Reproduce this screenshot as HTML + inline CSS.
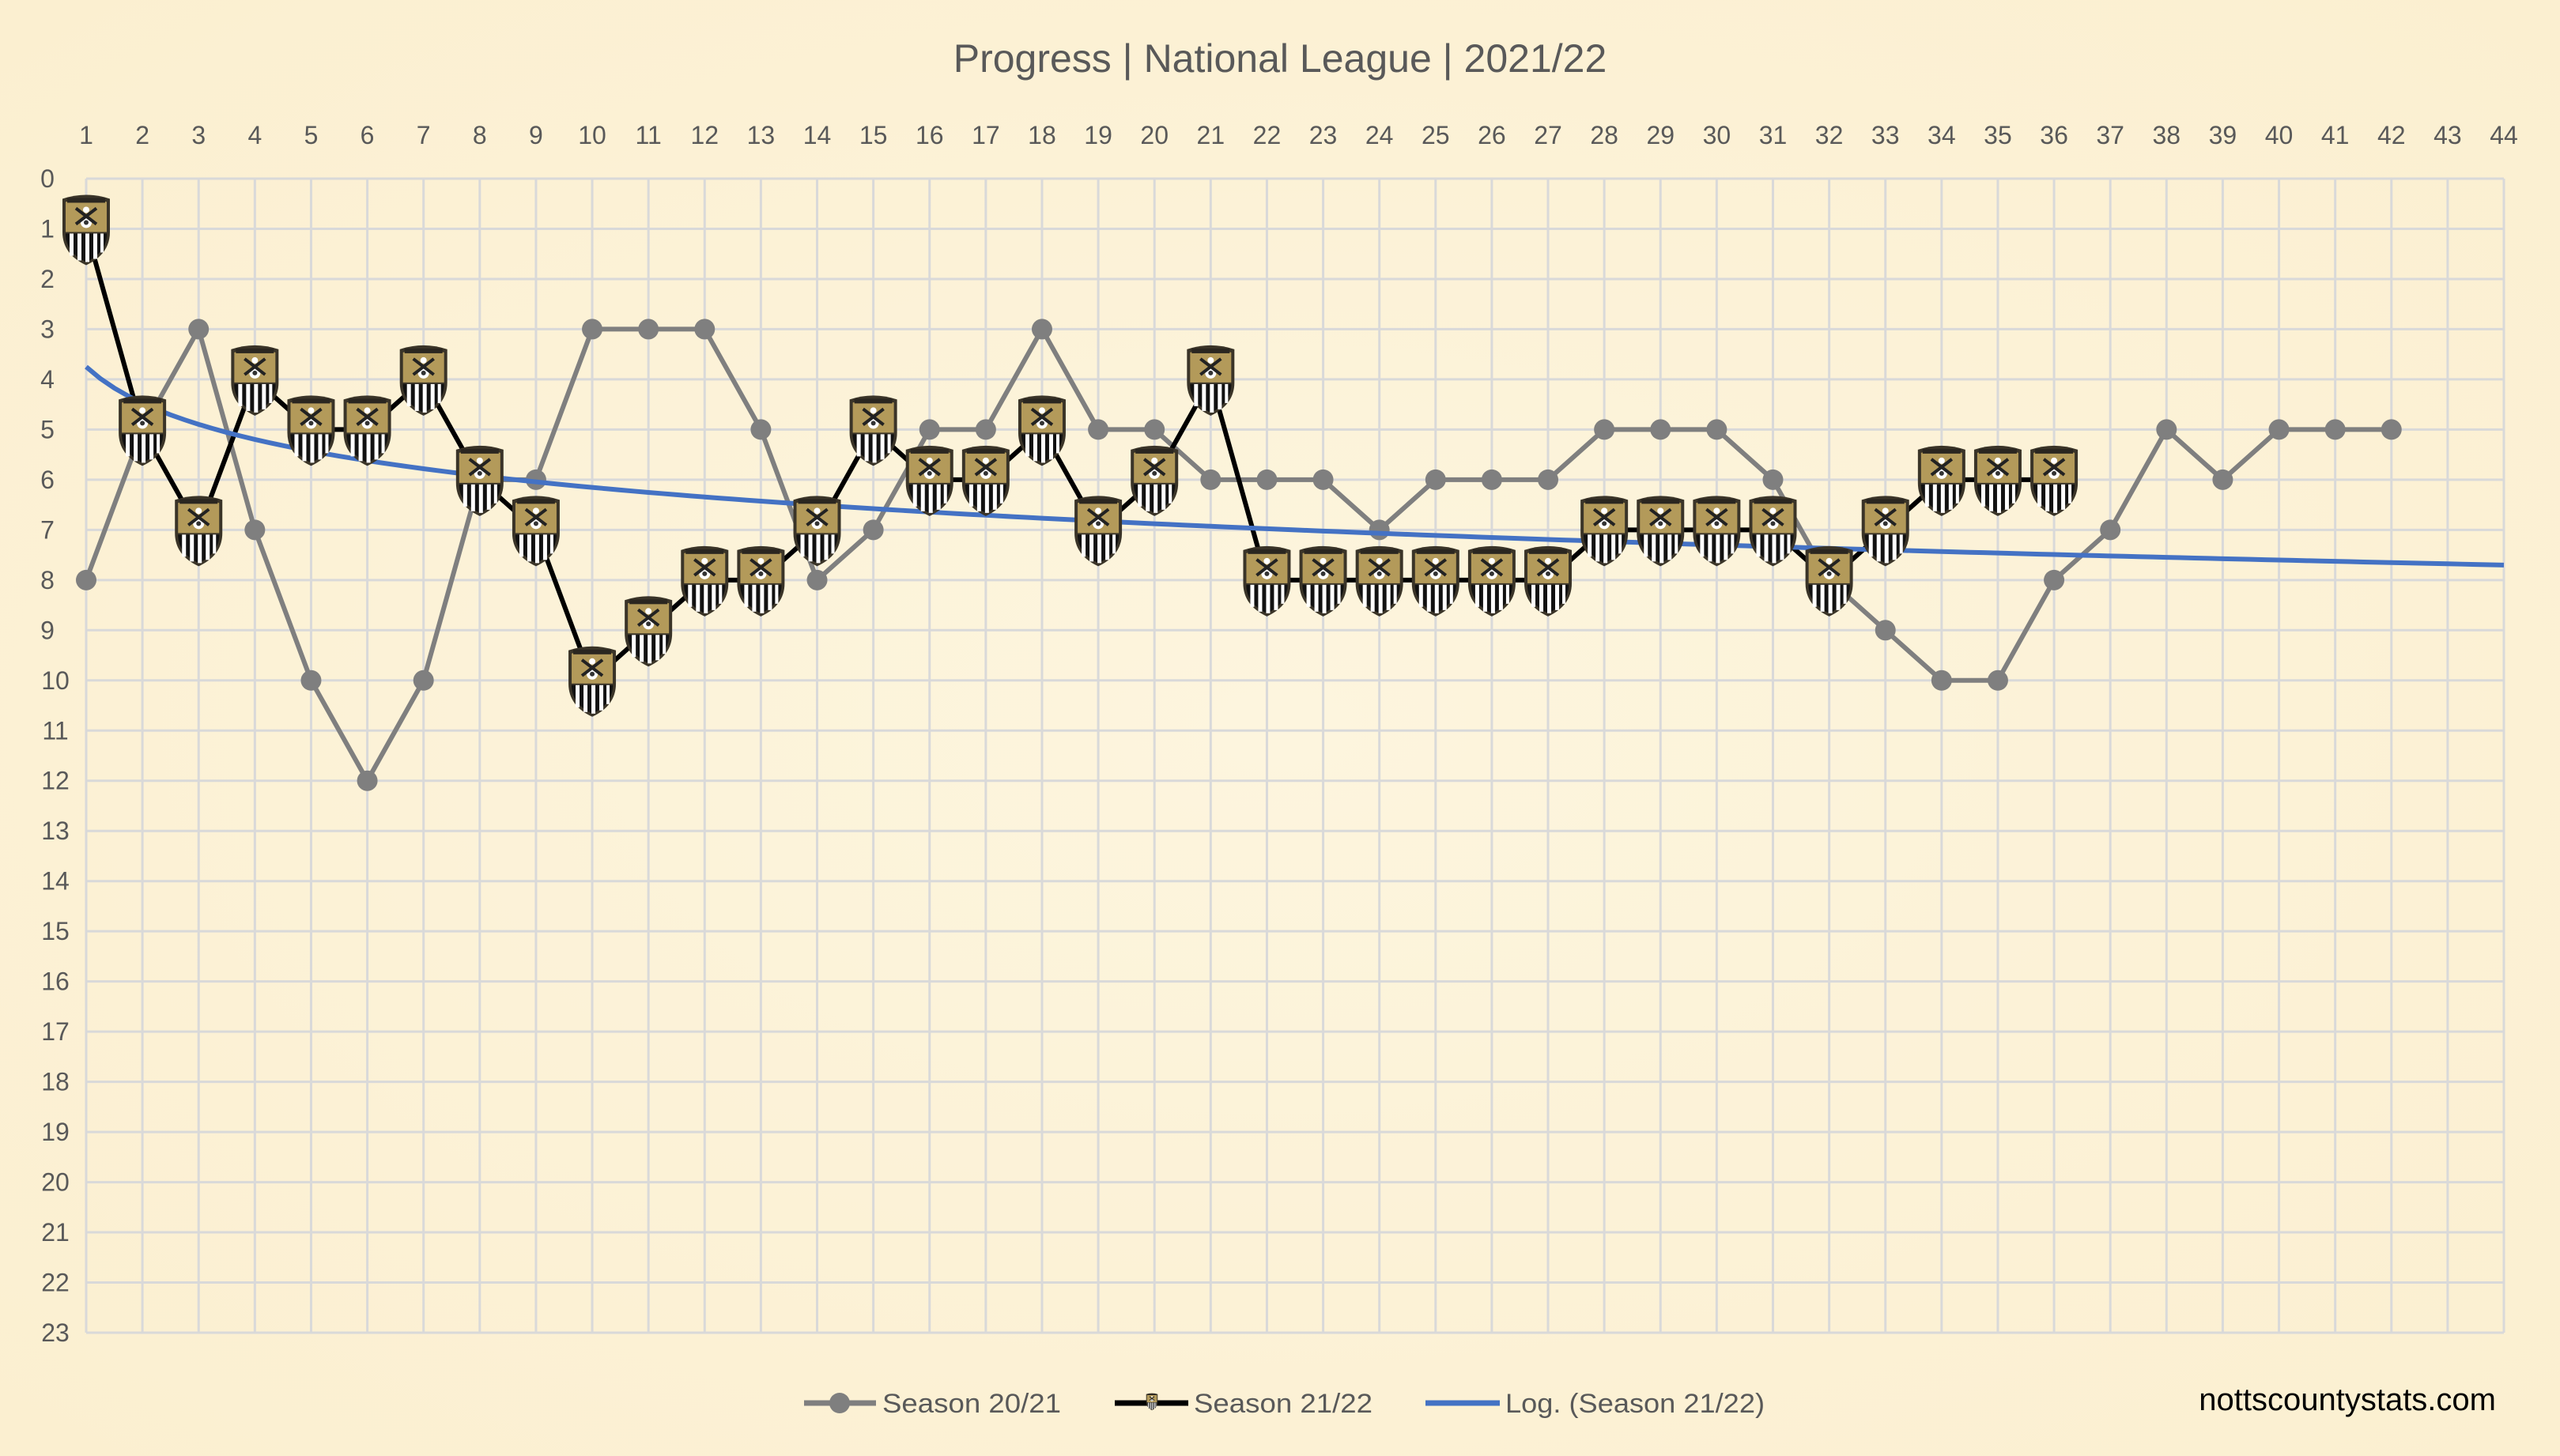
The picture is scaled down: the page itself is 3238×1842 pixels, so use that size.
<!DOCTYPE html>
<html><head><meta charset="utf-8"><style>
html,body{margin:0;padding:0;background:#fcf1d6;}
svg{display:block;font-family:"Liberation Sans",sans-serif;}
</style></head><body>
<svg id="s" width="3238" height="1842" xmlns="http://www.w3.org/2000/svg">
<defs>
<radialGradient id="bg" cx="50%" cy="50%" r="70%"><stop offset="0" stop-color="#fdf5de"/><stop offset="1" stop-color="#fbefd0"/></radialGradient>
<symbol id="crest" viewBox="0 0 66 92" overflow="visible">
<path d="M3,8 Q33,-2 63,8 L63,50 Q63,78 33,92 Q3,78 3,50 Z" fill="#3a3428"/>
<path d="M7,12 Q33,4 59,12 L59,50 L7,50 Z" fill="#b39a5a"/>
<rect x="9" y="7" width="48" height="6" fill="#2a2620"/>
<path d="M7,52 L59,52 L59,54 Q58,76 33,88 Q8,76 7,54 Z" fill="#111"/>
<rect x="12" y="52" width="5" height="28" fill="#fff"/>
<rect x="22" y="52" width="5" height="34" fill="#fff"/>
<rect x="32" y="52" width="5" height="36" fill="#fff"/>
<rect x="42" y="52" width="5" height="32" fill="#fff"/>
<rect x="51" y="52" width="4" height="24" fill="#fff"/>
<circle cx="33" cy="38" r="7" fill="#fff"/><circle cx="33" cy="38" r="3" fill="#333"/>
<path d="M20,20 L46,40 M46,20 L20,40" stroke="#222" stroke-width="4"/>
<circle cx="33" cy="22" r="4" fill="#fff"/>
</symbol>
</defs>
<rect width="3238" height="1842" fill="url(#bg)"/>
<text x="1619" y="91" font-size="50" fill="#595959" text-anchor="middle">Progress | National League | 2021/22</text>
<g id="g"></g>
</svg>
<script>
const L=109,T=226,R=3167,B=1686,dx=(R-L)/43,dy=(B-T)/23;
const X=i=>L+(i-1)*dx, Y=v=>T+v*dy;
let h='';
for(let i=1;i<=44;i++){h+=`<line x1="${X(i)}" y1="${T}" x2="${X(i)}" y2="${B}" stroke="#d9d9d9" stroke-width="3"/>`;
h+=`<text x="${X(i)}" y="182" font-size="32" fill="#595959" text-anchor="middle">${i}</text>`;}
for(let v=0;v<=23;v++){h+=`<line x1="${L}" y1="${Y(v)}" x2="${R}" y2="${Y(v)}" stroke="#d9d9d9" stroke-width="3"/>`;
h+=`<text x="${v>9?70:60}" y="${Y(v)+11}" font-size="32" fill="#595959" text-anchor="middle">${v}</text>`;}
const a=[8,5,3,7,10,12,10,6,6,3,3,3,5,8,7,5,5,3,5,5,6,6,6,7,6,6,6,5,5,5,6,8,9,10,10,8,7,5,6,5,5,5];
const b=[1,5,7,4,5,5,4,6,7,10,9,8,8,7,5,6,6,5,7,6,4,8,8,8,8,8,8,7,7,7,7,8,7,6,6,6];
h+=`<polyline fill="none" stroke="#7f7f7f" stroke-width="6" stroke-linejoin="round" points="${a.map((v,i)=>X(i+1)+','+Y(v)).join(' ')}"/>`;
a.forEach((v,i)=>h+=`<circle cx="${X(i+1)}" cy="${Y(v)}" r="13" fill="#7f7f7f"/>`);
h+=`<polyline fill="none" stroke="#000" stroke-width="6" stroke-linejoin="round" points="${b.map((v,i)=>X(i+1)+','+Y(v)).join(' ')}"/>`;
let p=[];for(let x=1;x<=44;x+=0.25)p.push(X(x)+','+Y(3.75+1.044*Math.log(x)));
h+=`<polyline fill="none" stroke="#4472c4" stroke-width="6" points="${p.join(' ')}"/>`;
b.forEach((v,i)=>h+=`<use href="#crest" x="${X(i+1)-33}" y="${Y(v)-46}" width="66" height="92"/>`);
const ly=1775;
h+=`<line x1="1017" y1="${ly}" x2="1108" y2="${ly}" stroke="#7f7f7f" stroke-width="7"/><circle cx="1062" cy="${ly}" r="13" fill="#7f7f7f"/>`;
h+=`<text x="1116" y="${ly+12}" font-size="34" fill="#595959" textLength="226" lengthAdjust="spacingAndGlyphs">Season 20/21</text>`;
h+=`<line x1="1410" y1="${ly}" x2="1503" y2="${ly}" stroke="#000" stroke-width="7"/><use href="#crest" x="1449" y="${ly-14}" width="16" height="24"/>`;
h+=`<text x="1510" y="${ly+12}" font-size="34" fill="#595959" textLength="226" lengthAdjust="spacingAndGlyphs">Season 21/22</text>`;
h+=`<line x1="1803" y1="${ly}" x2="1897" y2="${ly}" stroke="#4472c4" stroke-width="7"/>`;
h+=`<text x="1904" y="${ly+12}" font-size="34" fill="#595959" textLength="328" lengthAdjust="spacingAndGlyphs">Log. (Season 21/22)</text>`;
h+=`<text x="3157" y="1784" font-size="40" fill="#000" text-anchor="end">nottscountystats.com</text>`;
document.getElementById('g').innerHTML=h;
</script>
</body></html>
